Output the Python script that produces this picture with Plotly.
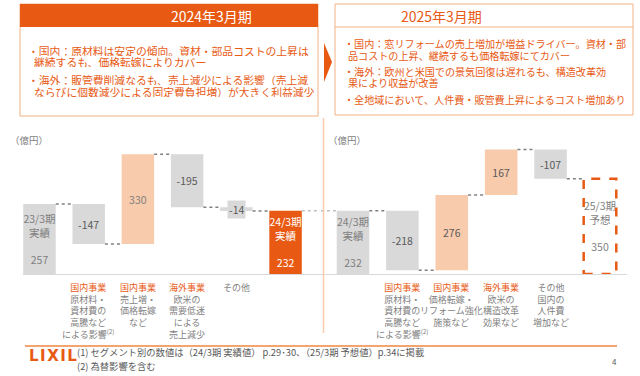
import plotly.graph_objects as go

# ---------------- data ----------------
left_total_names = ["23/3期<br>実績", "24/3期<br>実績"]
left_values = [257, -147, 330, -195, -14, 232]
left_measures = ["total", "relative", "relative", "relative", "relative", "total"]
left_segments = ["", "国内事業", "国内事業", "海外事業", "", ""]
left_desc = ["", "原材料・<br>資材費の<br>高騰など<br>による影響<sup>(2)</sup>",
             "売上増・<br>価格転嫁<br>など",
             "欧米の<br>需要低迷<br>による<br>売上減少",
             "その他", ""]

right_total_names = ["24/3期<br>実績", "25/3期<br>予想"]
right_values = [232, -218, 276, 167, -107, 350]
right_measures = ["total", "relative", "relative", "relative", "relative", "total"]
right_segments = ["", "国内事業", "国内事業", "海外事業", "", ""]
right_desc = ["", "原材料・<br>資材費の<br>高騰など<br>による影響<sup>(2)</sup>",
              "価格転嫁・<br>リフォーム強化<br>施策など",
              "欧米の<br>構造改革<br>効果など",
              "その他<br>国内の<br>人件費<br>増加など", ""]

left_title = "2024年3月期"
left_lines = ["・国内：原材料は安定の傾向。資材・部品コストの上昇は",
              "継続するも、価格転嫁によりカバー",
              "・海外：販管費削減なるも、売上減少による影響（売上減",
              "ならびに個数減少による固定費負担増）が大きく利益減少"]
right_title = "2025年3月期"
right_lines = ["・国内：窓リフォームの売上増加が増益ドライバー。資材・部",
               "品コストの上昇、継続するも価格転嫁にてカバー",
               "・海外：欧州と米国での景気回復は遅れるも、構造改革効",
               "果により収益が改善",
               "・全地域において、人件費・販管費上昇によるコスト増加あり"]
footnotes = ["(1) セグメント別の数値は（24/3期 実績値） p.29･30、（25/3期 予想値）p.34に掲載",
             "(2) 為替影響を含む"]
unit_label = "（億円）"
logo_text = "L\u200aI\u200aX\u200aI\u200aL"
page_no = "4"

# ---------------- styles ----------------
ORANGE = "#E85A14"
PEACH = "#F8CBAD"
GRAY = "#D9D9D9"
TXT = "#7F7F7F"
DARK = "#595959"
BORDER = "#F4B183"
FONT = "Noto Sans CJK JP"
W, H = 640, 376
BW = 0.66


def px(x):
    return x / W


def py(y):
    return 1 - y / H


def waterfall(values, measures):
    bases, heights, levels = [], [], []
    run = 0
    for v, m in zip(values, measures):
        if m == "total":
            bases.append(0)
            heights.append(v)
            run = v
        else:
            bases.append(run)
            heights.append(v)
            run = run + v
        levels.append(run)
    return bases, heights, levels


fig = go.Figure()


def cat_label(seg, desc):
    if seg:
        return f"<span style='color:{ORANGE}'>{seg}</span><br>{desc}"
    return desc


def add_panel(values, measures, total_names, segs, descs, xa, ya, colors, tcolors, last_dashed):
    bases, heights, levels = waterfall(values, measures)
    xs = list(range(len(values)))
    yref = ya
    texts = []
    ti = 0
    for i, (v, m) in enumerate(zip(values, measures)):
        if m == "total":
            texts.append(f"{total_names[ti]}<br><br>{v}")
            ti += 1
        elif abs(v) < 30:
            texts.append(None)
        else:
            texts.append(f"{v}")
    fig.add_trace(go.Bar(
        x=xs, y=heights, base=bases, width=BW, xaxis=xa, yaxis=ya,
        marker=dict(color=colors, line=dict(width=0)),
        text=texts, textposition="inside", insidetextanchor="middle",
        textangle=0, constraintext="none",
        textfont=dict(size=10.5, color=tcolors, family=FONT),
        showlegend=False, hoverinfo="skip"))
    # small-value labels
    for i, (v, m) in enumerate(zip(values, measures)):
        if m != "total" and abs(v) < 30:
            fig.add_annotation(x=i, y=bases[i] + v / 2, xref=xa, yref=yref,
                               text=f"{v}", showarrow=False, bgcolor=GRAY, borderpad=1,
                               font=dict(size=10.5, color=DARK, family=FONT))
    # category labels below the axis
    for i, (s, d) in enumerate(zip(segs, descs)):
        t = cat_label(s, d)
        if t:
            fig.add_annotation(x=i, y=py(279), xref=xa, yref="paper", yanchor="top",
                               text=t, showarrow=False, align="center",
                               font=dict(size=9, color=TXT, family=FONT))
    # connectors
    cx, cy = [], []
    for i in range(len(values) - 1):
        cx += [i + BW / 2, i + 1 - BW / 2, None]
        cy += [levels[i], levels[i], None]
    fig.add_trace(go.Scatter(x=cx, y=cy, mode="lines", xaxis=xa, yaxis=ya,
                             line=dict(color="#808080", width=1.5, dash="dot"),
                             showlegend=False, hoverinfo="skip"))
    if last_dashed:
        n = len(values) - 1
        fig.add_shape(type="rect", xref=xa, yref=yref,
                      x0=n - BW / 2, x1=n + BW / 2, y0=0, y1=values[n],
                      line=dict(color=ORANGE, width=2.5, dash="dash"), layer="above")
    return levels


left_colors = [GRAY, GRAY, PEACH, GRAY, GRAY, ORANGE]
left_tcolors = [TXT, DARK, TXT, DARK, DARK, "white"]
right_colors = [GRAY, GRAY, PEACH, PEACH, GRAY, "rgba(255,255,255,0)"]
right_tcolors = [TXT, DARK, DARK, DARK, DARK, TXT]

llev = add_panel(left_values, left_measures, left_total_names, left_segments, left_desc,
                 "x", "y", left_colors, left_tcolors, False)
rlev = add_panel(right_values, right_measures, right_total_names, right_segments, right_desc,
                 "x2", "y2", right_colors, right_tcolors, True)

# connector between the two panels (24/3 result)
fig.add_trace(go.Scatter(x=[len(left_values) - 1 + BW / 2, 6.5], y=[llev[-1], llev[-1]], mode="lines",
                         xaxis="x", yaxis="y", line=dict(color="#BFBFBF", width=1.5, dash="dot"),
                         showlegend=False, hoverinfo="skip"))
fig.add_trace(go.Scatter(x=[-1.5, -BW / 2], y=[right_values[0], right_values[0]], mode="lines",
                         xaxis="x2", yaxis="y2", line=dict(color="#BFBFBF", width=1.5, dash="dot"),
                         showlegend=False, hoverinfo="skip"))

yr = [0, 528.6]
ydom = [py(274), py(130)]
axis_common = dict(showgrid=False, zeroline=False, showline=True, linecolor=GRAY, linewidth=1,
                   ticks="", showticklabels=False, fixedrange=True)
fig.update_layout(
    width=W, height=H, margin=dict(l=0, r=0, t=0, b=0, autoexpand=False),
    paper_bgcolor="white", plot_bgcolor="rgba(0,0,0,0)",
    font=dict(family=FONT, color=TXT),
    barmode="overlay",
    xaxis=dict(domain=[px(23), px(320)], range=[-0.335, 5.70], anchor="y", **axis_common),
    yaxis=dict(domain=ydom, range=yr, visible=False, anchor="x"),
    xaxis2=dict(domain=[px(320), px(627)], range=[-0.668, 5.547], anchor="y2", **axis_common),
    yaxis2=dict(domain=ydom, range=yr, visible=False, anchor="x2"),
)

# ---------------- slide decorations ----------------
shapes = []
shapes.append(dict(type="rect", xref="paper", yref="paper", x0=px(20), x1=px(318), y0=py(116), y1=py(4),
                   line=dict(color=BORDER, width=1), fillcolor="white", layer="below"))
shapes.append(dict(type="rect", xref="paper", yref="paper", x0=px(20), x1=px(318), y0=py(27), y1=py(4),
                   line=dict(width=0), fillcolor=ORANGE, layer="below"))
shapes.append(dict(type="rect", xref="paper", yref="paper", x0=px(335), x1=px(633), y0=py(115), y1=py(4),
                   line=dict(color=BORDER, width=1), fillcolor="white", layer="below"))
shapes.append(dict(type="line", xref="paper", yref="paper", x0=px(335), x1=px(633), y0=py(27), y1=py(27),
                   line=dict(color=BORDER, width=1)))
shapes.append(dict(type="path", xref="paper", yref="paper",
                   path=f"M {px(324)} {py(43)} L {px(332)} {py(62)} L {px(324)} {py(82)} Z",
                   fillcolor=ORANGE, line=dict(width=0)))
shapes.append(dict(type="line", xref="paper", yref="paper", x0=px(323.5), x1=px(323.5), y0=py(118), y1=py(333),
                   line=dict(color="#F8CBAD", width=1.5)))
shapes.append(dict(type="line", xref="paper", yref="paper", x0=px(25), x1=px(617), y0=py(346), y1=py(346),
                   line=dict(color="#F4A46E", width=2)))
for s in shapes:
    fig.add_shape(**s)

ann = []
ann.append(dict(x=px(169), y=py(16), text=left_title, font=dict(size=14, color="white")))
ann.append(dict(x=px(484), y=py(16), text=right_title, font=dict(size=14, color=ORANGE)))
lpos = [(27, 50), (33, 62), (27, 79), (33, 91)]
for t, (x, y) in zip(left_lines, lpos):
    ann.append(dict(x=px(x), y=py(y), text=t, xanchor="left", height=11, borderpad=0,
                    font=dict(size=10.8, color=ORANGE)))
rpos = [(343, 43), (347, 55), (343, 71), (347, 83), (343, 99)]
for t, (x, y) in zip(right_lines, rpos):
    ann.append(dict(x=px(x), y=py(y), text=t, xanchor="left", height=11, borderpad=0,
                    font=dict(size=10.1, color=ORANGE)))
ann.append(dict(x=px(8), y=py(140), text=unit_label, xanchor="left", font=dict(size=9.5, color=TXT)))
ann.append(dict(x=px(326), y=py(140), text=unit_label, xanchor="left", font=dict(size=9.5, color=TXT)))
ann.append(dict(x=px(27), y=py(356), text=f"<b>{logo_text}</b>", xanchor="left",
                font=dict(size=15, color=ORANGE, family="DejaVu Sans")))
ann.append(dict(x=px(75), y=py(352), text=footnotes[0], xanchor="left", font=dict(size=9.3, color=DARK)))
ann.append(dict(x=px(75), y=py(366), text=footnotes[1], xanchor="left", font=dict(size=9.3, color=DARK)))
ann.append(dict(x=px(614), y=py(361), text=page_no, xanchor="center", font=dict(size=8, color=DARK)))
for a in ann:
    f = a.pop("font")
    f.setdefault("family", FONT)
    fig.add_annotation(xref="paper", yref="paper", showarrow=False, yanchor="middle", font=f, **a)

fig.write_html("out.html", config={"displayModeBar": False},
               post_script="document.body.style.margin='0';")
